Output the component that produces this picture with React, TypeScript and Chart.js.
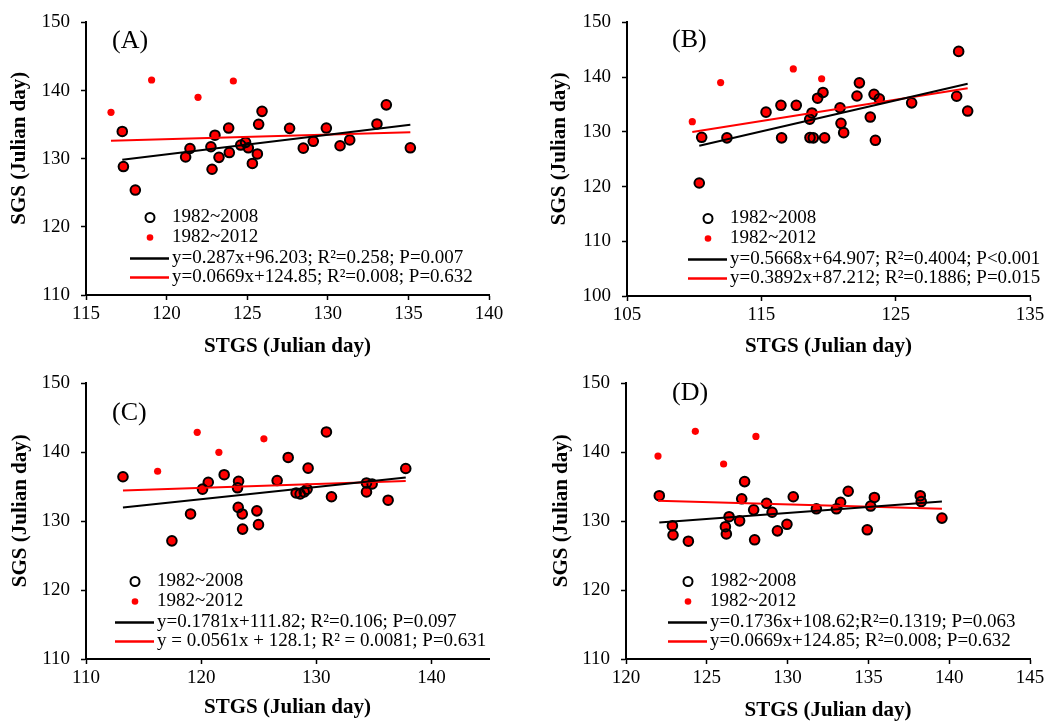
import React, { useEffect, useRef } from "react";
import { Chart, registerables } from "chart.js";

Chart.register(...registerables);

const FONT = "'Liberation Serif', 'Times New Roman', Times, serif";

// ---------- Panel A ----------
const aX2008 = [117.25, 117.32, 118.06, 121.18, 121.45, 122.75, 122.82, 123.0, 123.25, 123.85, 123.89, 124.6, 124.9, 125.07, 125.32, 125.63, 125.71, 125.92, 127.63, 128.48, 129.1, 129.91, 130.76, 131.36, 133.05, 133.63, 135.12];
const aY2008 = [134.0, 128.85, 125.4, 130.25, 131.5, 131.75, 128.45, 133.45, 130.2, 134.5, 130.9, 132.0, 132.4, 131.6, 129.3, 130.7, 135.05, 136.95, 134.45, 131.55, 132.55, 134.5, 131.9, 132.75, 135.1, 137.9, 131.6];
const aXExtra = [116.55, 119.07, 121.95, 124.14];
const aYExtra = [136.8, 141.55, 139.0, 141.4];
const aBlackFit = [0.287, 96.203];
const aRedFit = [0.0669, 124.85];
const aEqBlack = "y=0.287x+96.203; R²=0.258; P=0.007";
const aEqRed = "y=0.0669x+124.85; R²=0.008; P=0.632";
const aXTicks = [115, 140, 5];
const aYTicks = [110, 150, 10];

// ---------- Panel B ----------
const bX2008 = [110.56, 110.38, 112.44, 115.35, 116.46, 116.51, 117.6, 118.6, 118.77, 118.87, 118.62, 119.19, 119.59, 119.71, 120.86, 120.93, 121.13, 122.12, 122.3, 123.11, 123.39, 123.49, 123.78, 126.19, 129.54, 129.69, 130.36];
const bY2008 = [129.0, 120.65, 128.9, 133.6, 134.85, 128.9, 134.85, 132.3, 133.45, 128.9, 128.95, 136.15, 137.2, 128.9, 134.4, 131.55, 129.85, 136.55, 138.95, 132.7, 136.85, 128.45, 136.05, 135.3, 136.5, 144.7, 133.8];
const bXExtra = [109.86, 111.97, 117.38, 119.49];
const bYExtra = [131.85, 139.0, 141.5, 139.7];
const bBlackFit = [0.5668, 64.907];
const bRedFit = [0.3892, 87.212];
const bEqBlack = "y=0.5668x+64.907; R²=0.4004; P<0.001";
const bEqRed = "y=0.3892x+87.212; R²=0.1886; P=0.015";
const bXTicks = [105, 135, 10];
const bYTicks = [100, 150, 10];

// ---------- Panel C ----------
const cX2008 = [113.21, 117.46, 119.08, 120.12, 120.62, 122.0, 123.25, 123.16, 123.22, 123.57, 123.6, 124.84, 124.98, 126.6, 127.56, 128.25, 128.6, 128.95, 129.2, 129.29, 130.88, 131.32, 134.36, 134.36, 134.85, 136.24, 137.77];
const cY2008 = [136.45, 127.15, 131.05, 134.65, 135.65, 136.75, 135.8, 134.85, 132.0, 131.05, 128.85, 131.5, 129.5, 135.9, 139.25, 134.1, 133.95, 134.25, 134.65, 137.7, 142.95, 133.55, 135.55, 134.25, 135.4, 133.05, 137.65];
const cXExtra = [116.22, 119.66, 121.54, 125.45];
const cYExtra = [137.25, 142.9, 140.0, 141.95];
const cBlackFit = [0.1781, 111.82];
const cRedFit = [0.0561, 128.1];
const cEqBlack = "y=0.1781x+111.82; R²=0.106; P=0.097";
const cEqRed = "y = 0.0561x + 128.1; R² = 0.0081; P=0.631";
const cXTicks = [110, 145, 10];
const cYTicks = [110, 150, 10];

// ---------- Panel D ----------
const dX2008 = [122.06, 122.87, 122.91, 123.86, 126.15, 126.21, 126.38, 127.03, 127.16, 127.34, 127.9, 127.96, 128.7, 129.04, 129.37, 129.96, 130.35, 131.78, 133.02, 133.28, 133.75, 134.93, 135.14, 135.37, 138.21, 138.27, 139.55];
const dY2008 = [133.7, 129.35, 128.0, 127.1, 129.2, 128.15, 130.65, 130.05, 133.25, 135.75, 131.65, 127.3, 132.6, 131.3, 128.6, 129.55, 133.55, 131.8, 131.8, 132.75, 134.35, 128.75, 132.2, 133.45, 133.7, 132.85, 130.45];
const dXExtra = [121.98, 124.29, 126.04, 128.04];
const dYExtra = [139.45, 143.05, 138.3, 142.3];
const dBlackFit = [0.1736, 108.62];
const dRedFit = [-0.0677, 141.24];
const dEqBlack = "y=0.1736x+108.62;R²=0.1319; P=0.063";
const dEqRed = "y=0.0669x+124.85; R²=0.008; P=0.632";
const dXTicks = [120, 145, 5];
const dYTicks = [110, 150, 10];

const legendLabels = ["1982~2008", "1982~2012"];
const xTitle = "STGS (Julian day)";
const yTitle = "SGS (Julian day)";

type Cfg = {
  label: string;
  x08: number[]; y08: number[]; xEx: number[]; yEx: number[];
  blackFit: number[]; redFit: number[];
  eqBlack: string; eqRed: string;
  xTicks: number[]; yTicks: number[];
  pageLeft: number; pageTop: number;
  area: { l: number; r: number; t: number; b: number };
  yTitleX: number; xTitleY: number; legendDx: number; labelDx: number; labelDy: number;
};

const W = 525;
const H = 361;

const panels: Cfg[] = [
  { label: "(A)", x08: aX2008, y08: aY2008, xEx: aXExtra, yEx: aYExtra, blackFit: aBlackFit, redFit: aRedFit, eqBlack: aEqBlack, eqRed: aEqRed, xTicks: aXTicks, yTicks: aYTicks,
    pageLeft: 0, pageTop: 0, area: { l: 86, r: 489, t: 20, b: 295 }, yTitleX: 20, xTitleY: 347, legendDx: 86, labelDx: 26, labelDy: 19 },
  { label: "(B)", x08: bX2008, y08: bY2008, xEx: bXExtra, yEx: bYExtra, blackFit: bBlackFit, redFit: bRedFit, eqBlack: bEqBlack, eqRed: bEqRed, xTicks: bXTicks, yTicks: bYTicks,
    pageLeft: 525, pageTop: 0, area: { l: 102, r: 505, t: 21, b: 296 }, yTitleX: 35, xTitleY: 347, legendDx: 103, labelDx: 45, labelDy: 18 },
  { label: "(C)", x08: cX2008, y08: cY2008, xEx: cXExtra, yEx: cYExtra, blackFit: cBlackFit, redFit: cRedFit, eqBlack: cEqBlack, eqRed: cEqRed, xTicks: cXTicks, yTicks: cYTicks,
    pageLeft: 0, pageTop: 361, area: { l: 86, r: 489, t: 18, b: 298 }, yTitleX: 21, xTitleY: 347, legendDx: 71, labelDx: 26, labelDy: 29.5 },
  { label: "(D)", x08: dX2008, y08: dY2008, xEx: dXExtra, yEx: dYExtra, blackFit: dBlackFit, redFit: dRedFit, eqBlack: dEqBlack, eqRed: dEqRed, xTicks: dXTicks, yTicks: dYTicks,
    pageLeft: 525, pageTop: 361, area: { l: 101, r: 505, t: 18, b: 298 }, yTitleX: 37, xTitleY: 350, legendDx: 84, labelDx: 46, labelDy: 9.5 },
];

function fitLine(xs: number[], fit: number[]) {
  const lo = Math.min(...xs);
  const hi = Math.max(...xs);
  return [
    { x: lo, y: fit[0] * lo + fit[1] },
    { x: hi, y: fit[0] * hi + fit[1] },
  ];
}

function Panel({ cfg }: { cfg: Cfg }) {
  const ref = useRef<HTMLCanvasElement>(null);
  useEffect(() => {
    const pts08 = cfg.x08.map((x, i) => ({ x, y: cfg.y08[i] }));
    const ptsEx = cfg.xEx.map((x, i) => ({ x, y: cfg.yEx[i] }));
    const pts12 = [...pts08, ...ptsEx];
    const radii12 = [...pts08.map(() => 4.8), ...ptsEx.map(() => 3.6)];
    const allX = [...cfg.x08, ...cfg.xEx];
    const titleLH = 21;
    const padL = cfg.yTitleX - titleLH / 2;
    const xBoxBottom = cfg.xTitleY + titleLH / 2;
    const padB = H - xBoxBottom;

    const overlay = {
      id: "overlay" + cfg.label,
      afterDraw(chart: any) {
        const ctx = chart.ctx;
        const ca = chart.chartArea;
        ctx.save();
        ctx.fillStyle = "#000";
        ctx.font = `26px ${FONT}`;
        ctx.textAlign = "left";
        ctx.textBaseline = "middle";
        ctx.fillText(cfg.label, ca.left + cfg.labelDx, ca.top + cfg.labelDy);

        const tx = ca.left + cfg.legendDx;
        const rows = [ca.bottom - 77.5, ca.bottom - 57.5, ca.bottom - 36.5, ca.bottom - 17.5];
        ctx.font = `19px ${FONT}`;
        ctx.beginPath();
        ctx.arc(tx - 22, rows[0], 4.5, 0, Math.PI * 2);
        ctx.lineWidth = 2;
        ctx.strokeStyle = "#000";
        ctx.stroke();
        ctx.fillText(legendLabels[0], tx, rows[0]);
        ctx.beginPath();
        ctx.arc(tx - 22, rows[1], 3.3, 0, Math.PI * 2);
        ctx.fillStyle = "#ff0000";
        ctx.fill();
        ctx.fillStyle = "#000";
        ctx.fillText(legendLabels[1], tx, rows[1]);
        ctx.beginPath();
        ctx.moveTo(tx - 42, rows[2]);
        ctx.lineTo(tx - 3, rows[2]);
        ctx.lineWidth = 2.5;
        ctx.strokeStyle = "#000";
        ctx.stroke();
        ctx.fillText(cfg.eqBlack, tx, rows[2]);
        ctx.beginPath();
        ctx.moveTo(tx - 42, rows[3]);
        ctx.lineTo(tx - 3, rows[3]);
        ctx.strokeStyle = "#ff0000";
        ctx.stroke();
        ctx.fillText(cfg.eqRed, tx, rows[3]);
        ctx.restore();
      },
    };

    const axisCommon = {
      grid: { display: true, drawOnChartArea: false, drawTicks: true, tickLength: 5, tickWidth: 1.5, tickColor: "#000", color: "#000" },
      border: { display: true, color: "#000", width: 2 },
    };

    const chart = new Chart(ref.current as HTMLCanvasElement, {
      type: "scatter",
      data: {
        datasets: [
          { label: "fit2008", data: fitLine(cfg.x08, cfg.blackFit), showLine: true, borderColor: "#000", borderWidth: 2, pointRadius: 0, fill: false } as any,
          { label: "fit2012", data: fitLine(allX, cfg.redFit), showLine: true, borderColor: "#ff0000", borderWidth: 2, pointRadius: 0, fill: false } as any,
          { label: legendLabels[0], data: pts08, pointRadius: 4.8, pointBorderWidth: 2, pointBorderColor: "#000", pointBackgroundColor: "rgba(0,0,0,0)", showLine: false } as any,
          { label: legendLabels[1], data: pts12, pointRadius: radii12, pointBorderWidth: 0, pointBorderColor: "#ff0000", pointBackgroundColor: "#ff0000", showLine: false } as any,
        ],
      },
      options: {
        responsive: false,
        animation: false,
        devicePixelRatio: 1,
        layout: { padding: { left: padL, top: cfg.area.t, right: W - cfg.area.r, bottom: padB } },
        plugins: { legend: { display: false }, tooltip: { enabled: false } },
        scales: {
          x: {
            type: "linear",
            min: cfg.xTicks[0],
            max: cfg.xTicks[1],
            ...axisCommon,
            ticks: { stepSize: cfg.xTicks[2], includeBounds: false, autoSkip: false, maxRotation: 0, padding: 3, color: "#000", font: { family: FONT, size: 19 } },
            title: { display: true, text: xTitle, color: "#000", padding: 0, font: { family: FONT, size: 21, weight: "bold", lineHeight: 1 } },
            afterFit: (s: any) => { s.height = xBoxBottom - cfg.area.b; },
          },
          y: {
            type: "linear",
            min: cfg.yTicks[0],
            max: cfg.yTicks[1],
            ...axisCommon,
            ticks: { stepSize: cfg.yTicks[2], includeBounds: false, autoSkip: false, padding: 11, color: "#000", font: { family: FONT, size: 19 } },
            title: { display: true, text: "    " + yTitle, color: "#000", padding: 0, font: { family: FONT, size: 21, weight: "bold", lineHeight: 1 } },
            afterFit: (s: any) => { s.width = cfg.area.l - padL; },
          },
        },
      } as any,
      plugins: [overlay],
    });
    return () => chart.destroy();
  }, [cfg]);

  return (
    <div style={{ position: "absolute", left: cfg.pageLeft, top: cfg.pageTop, width: W, height: H }}>
      <canvas ref={ref} width={W} height={H} style={{ display: "block", width: W, height: H }} />
    </div>
  );
}

export default function App() {
  return (
    <div style={{ position: "absolute", left: 0, top: 0, width: 1050, height: 722, background: "#fff" }}>
      {panels.map((p) => (
        <Panel key={p.label} cfg={p} />
      ))}
    </div>
  );
}
